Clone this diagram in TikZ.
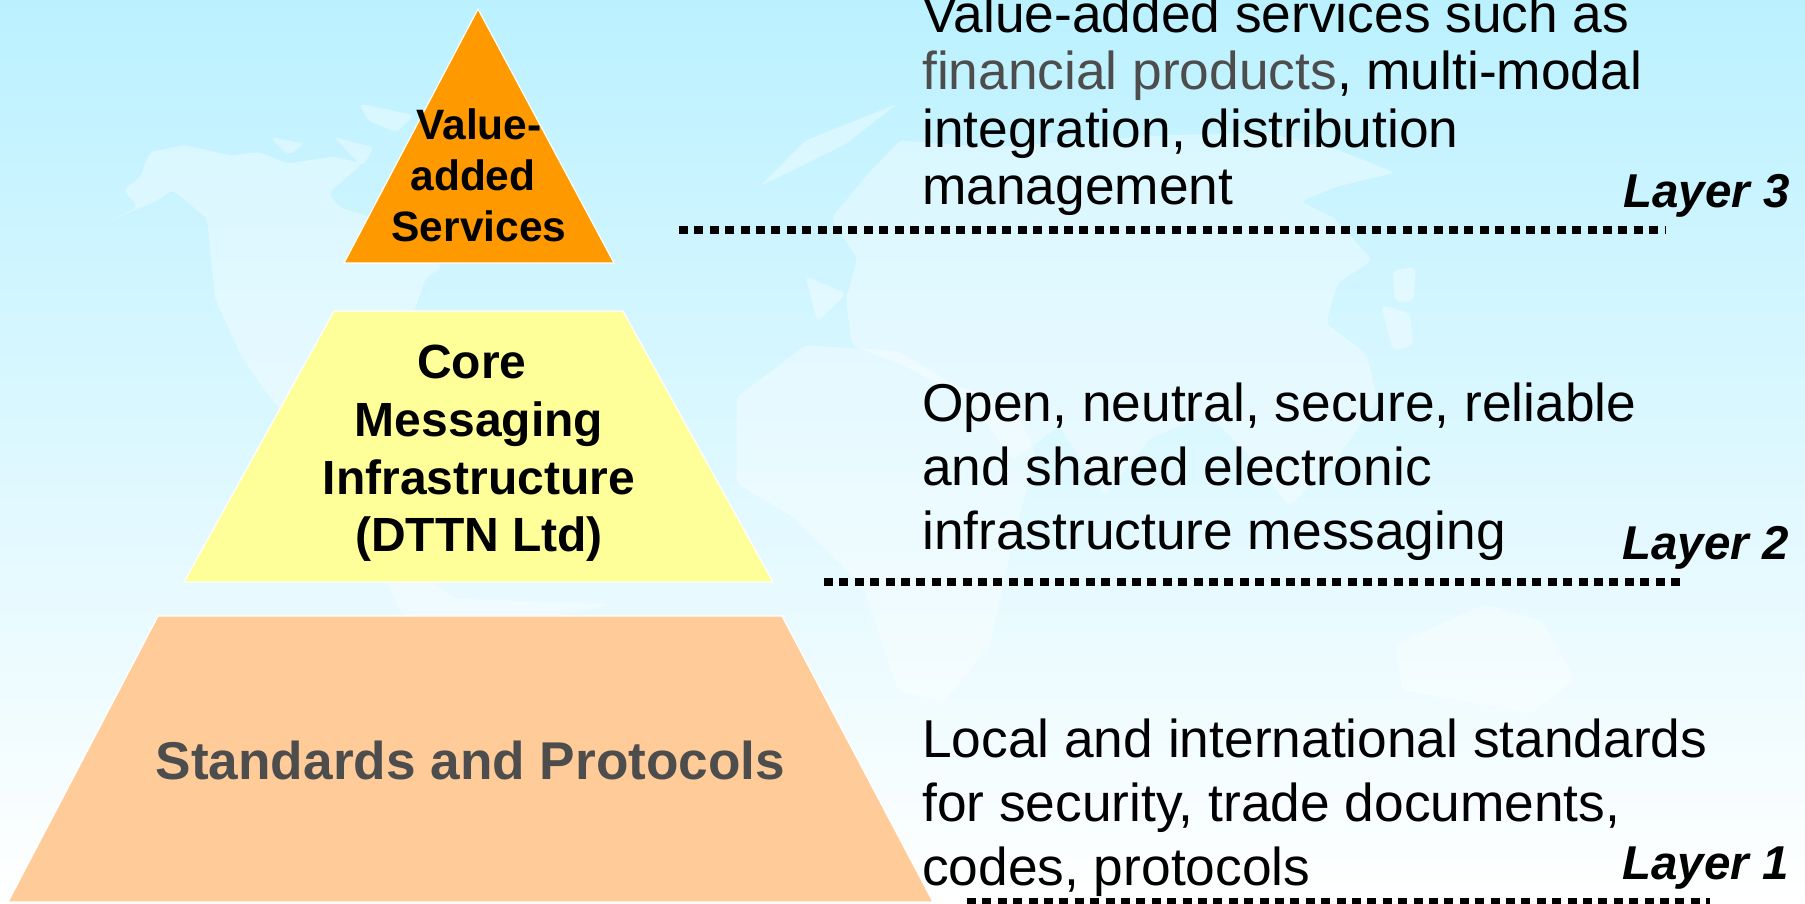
\documentclass[tikz,border=0pt]{standalone}
\usepackage{fontspec}
\setmainfont{Liberation Sans}
\definecolor{bgtop}{HTML}{BBF1FF}
\definecolor{toplvl}{HTML}{FF9900}
\definecolor{midlvl}{HTML}{FFFF99}
\definecolor{botlvl}{HTML}{FFCC99}
\definecolor{greytxt}{HTML}{4D4D4D}
\begin{document}
\begin{tikzpicture}[x=1pt,y=-1pt,
  land/.style={fill=white,opacity=0.36,draw=none,rounded corners=5pt},
  lvl/.style={draw=white,line width=1.2pt,line join=miter},
  rulerow/.style={line width=8pt,black,dash pattern=on 9pt off 6.4pt},
  plabel/.style={inner sep=0pt,anchor=base,font=\fontsize{42.5}{42.5}\selectfont\bfseries},
  clabel/.style={inner sep=0pt,anchor=base,font=\fontsize{48}{48}\selectfont\bfseries},
  desc/.style={inner sep=0pt,anchor=base west,font=\fontsize{53.3}{53.3}\selectfont},
  layer/.style={inner sep=0pt,anchor=base east,font=\fontsize{47.5}{47.5}\selectfont\bfseries\itshape}]
\useasboundingbox (0,0) rectangle (1805,904);
\shade[top color=bgtop,bottom color=white] (0,0) rectangle (1805,904);
% world map
\begin{scope}[x=1.151pt,y=-1.151pt]
\fill[land] (92,193)--(120,180)--(107,165)--(122,154)--(130,132)--(160,126)--(200,135)--(225,132)--(250,142)--(290,136)--(315,142)--(305,151)--(285,168)--(295,180)--(320,188)--(385,232)--(370,241)--(360,270)--(340,330)--(330,420)--(370,500)--(395,520)--(530,525)--(480,535)--(350,535)--(300,430)--(230,339)--(210,310)--(187,260)--(180,190)--(150,165)--(135,175)--cycle;
\fill[land] (312,90)--(360,100)--(345,115)--(320,105)--cycle;
\fill[land] (235,119)--(265,125)--(250,135)--cycle;
\fill[land] (290,119)--(325,128)--(315,145)--cycle;
\fill[land] (660,162)--(700,122)--(780,90)--(735,125)--cycle;
\fill[land] (700,240)--(735,255)--(710,280)--cycle;
\fill[land] (722,190)--(755,150)--(782,122)--(860,128)--(1000,118)--(1100,115)--(1162,130)--(1212,150)--(1162,162)--(1130,175)--(1160,190)--(1192,226)--(1162,246)--(1152,281)--(1187,307)--(1197,348)--(1160,400)--(1120,440)--(1090,400)--(1050,360)--(1000,380)--(960,430)--(920,370)--(880,400)--(845,350)--(790,320)--(740,300)--(735,260)--(745,225)--cycle;
\fill[land] (1210,235)--(1230,232)--(1228,262)--(1212,262)--cycle;
\fill[land] (1200,265)--(1225,272)--(1228,300)--(1210,305)--cycle;
\fill[land] (640,345)--(700,300)--(780,305)--(830,335)--(880,350)--(900,395)--(880,470)--(860,560)--(820,610)--(780,600)--(750,510)--(690,450)--(640,420)--cycle;
\fill[land] (1213,560)--(1290,525)--(1340,540)--(1368,590)--(1330,620)--(1250,605)--(1218,600)--cycle;
\end{scope}
% pyramid
\path[lvl,fill=toplvl] (478,9)--(614,263)--(344,263)--cycle;
\path[lvl,fill=midlvl] (334,311)--(623,311)--(773,582)--(184,582)--cycle;
\path[lvl,fill=botlvl] (158,616)--(782,616)--(933,902)--(8,902)--cycle;
% pyramid labels
\node[plabel] (v1) at (479,140) {Value-};
\node[plabel] (v2) at (473,191) {added};
\node[plabel] (v3) at (479,242) {Services};
\node[clabel] (c1) at (472,378) {Core};
\node[clabel] (c2) at (479,436) {Messaging};
\node[clabel] (c3) at (479,494) {Infrastructure};
\node[clabel] (c4) at (479,551) {(DTTN Ltd)};
\node[clabel,text=greytxt,font=\fontsize{53.2}{53.2}\selectfont\bfseries] (s1) at (470.5,779) {Standards and Protocols};
% descriptions
\node[desc] (a1) at (922,33) {Value-added services such as};
\node[desc] (a2) at (922,90) {\textcolor{greytxt}{financial products}, multi-modal};
\node[desc] (a3) at (922,148) {integration, distribution};
\node[desc] (a4) at (922,205) {management};
\node[desc] (b1) at (922,421) {Open, neutral, secure, reliable};
\node[desc] (b2) at (922,485) {and shared electronic};
\node[desc] (b3) at (922,549) {infrastructure messaging};
\node[desc] (d1) at (922,757) {Local and international standards};
\node[desc] (d2) at (922,821) {for security, trade documents,};
\node[desc] (d3) at (922,885) {codes, protocols};
\node[layer] (l3) at (1790,208) {Layer 3};
\node[layer] (l2) at (1789,559) {Layer 2};
\node[layer] (l1) at (1789,879) {Layer 1};
% rules
\coordinate (r3a) at (679,230); \coordinate (r3b) at (1665,230);
\coordinate (r2a) at (824,582); \coordinate (r2b) at (1680,582);
\coordinate (r1a) at (967,902); \coordinate (r1b) at (1710,902);
\draw[rulerow] (r3a)--(r3b);
\draw[rulerow] (r2a)--(r2b);
\draw[rulerow] (r1a)--(r1b);
\end{tikzpicture}
\end{document}
